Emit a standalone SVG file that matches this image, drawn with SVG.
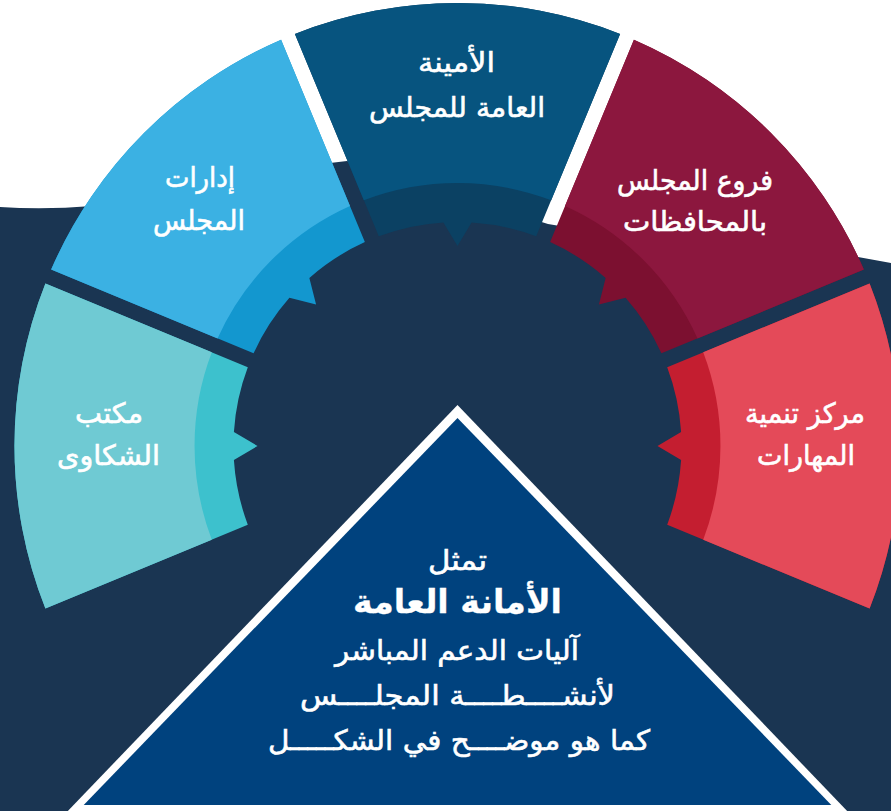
<svg xmlns="http://www.w3.org/2000/svg" width="891" height="811" viewBox="0 0 891 811">
<style>
.t{font-family:"DejaVu Sans","Noto Sans",sans-serif;fill:#ffffff;stroke:#ffffff;stroke-width:0.6px;text-anchor:middle;font-size:28px}
.tb{font-weight:bold;font-size:33px;stroke-width:0.3px}
</style>
<defs>
<path id="ring" d="M 294.9,33.9 A 443 443 0 0 1 620.1,33.9 L 536.2,236.3 A 224 224 0 0 0 471.6,222.4 L 457.5,246 L 443.4,222.4 A 224 224 0 0 0 378.8,236.3 Z"/>
<path id="outer" d="M 294.9,33.9 A 443 443 0 0 1 620.1,33.9 L 551.2,200.3 A 263 263 0 0 0 363.8,200.3 Z"/>
</defs>
<rect x="0" y="0" width="891" height="811" fill="#ffffff"/>
<path id="background" fill="#1a3552" d="M 0,207 Q 45,210 92,206 L 330,163 L 347,161 L 548,224 L 560,226 L 858,257 L 891,263 L 891,811 L 0,811 Z"/>

<g id="seg-amana">
<use href="#ring" fill="#0b4163"/>
<use href="#outer" fill="#07547f"/>
<text class="t" x="456.5" y="72" textLength="77" lengthAdjust="spacingAndGlyphs">الأمينة</text>
<text class="t" x="457" y="117" textLength="176" lengthAdjust="spacingAndGlyphs">العامة للمجلس</text>
</g>

<g id="seg-idarat">
<use href="#ring" fill="#1397cf" transform="rotate(-45 457.5 446)"/>
<use href="#outer" fill="#3bb1e3" transform="rotate(-45 457.5 446)"/>
<text class="t" x="200" y="187" textLength="70" lengthAdjust="spacingAndGlyphs">إدارات</text>
<text class="t" x="199" y="230" textLength="92" lengthAdjust="spacingAndGlyphs">المجلس</text>
</g>

<g id="seg-shakawa">
<use href="#ring" fill="#3dc1cd" transform="rotate(-90 457.5 446)"/>
<use href="#outer" fill="#6fcad3" transform="rotate(-90 457.5 446)"/>
<text class="t" x="109" y="423" textLength="68" lengthAdjust="spacingAndGlyphs">مكتب</text>
<text class="t" x="108.5" y="465" textLength="103" lengthAdjust="spacingAndGlyphs">الشكاوى</text>
</g>

<g id="seg-furu">
<use href="#ring" fill="#7c1030" transform="rotate(45 457.5 446)"/>
<use href="#outer" fill="#8c173e" transform="rotate(45 457.5 446)"/>
<text class="t" x="695" y="190" textLength="156" lengthAdjust="spacingAndGlyphs">فروع المجلس</text>
<text class="t" x="695" y="231" textLength="144" lengthAdjust="spacingAndGlyphs">بالمحافظات</text>
</g>

<g id="seg-markaz">
<use href="#ring" fill="#c41e30" transform="rotate(90 457.5 446)"/>
<use href="#outer" fill="#e44a59" transform="rotate(90 457.5 446)"/>
<text class="t" x="805" y="423" textLength="120" lengthAdjust="spacingAndGlyphs">مركز تنمية</text>
<text class="t" x="806" y="465" textLength="98" lengthAdjust="spacingAndGlyphs">المهارات</text>
</g>

<g id="triangle">
<polygon points="457.5,405 64,815 851,815" fill="#ffffff"/>
<polygon points="457.5,418 83.7,805 831.3,805" fill="#00427e"/>
<text class="t" x="457.5" y="570" textLength="59" lengthAdjust="spacingAndGlyphs">تمثل</text>
<text class="t tb" x="457.5" y="613" textLength="209" lengthAdjust="spacingAndGlyphs">الأمانة العامة</text>
<text class="t" x="457" y="660" textLength="244" lengthAdjust="spacingAndGlyphs">آليات الدعم المباشر</text>
<text class="t" x="457.5" y="705" textLength="315" lengthAdjust="spacingAndGlyphs">لأنشــــطــــة المجلــــس</text>
<text class="t" x="459" y="750" textLength="382" lengthAdjust="spacingAndGlyphs">كما هو موضــــح في الشكـــــل</text>
</g>
</svg>
